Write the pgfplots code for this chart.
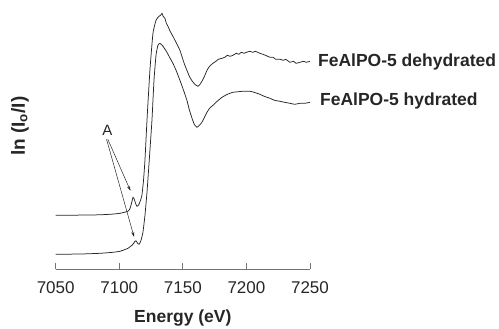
\documentclass[border=0pt]{standalone}
\usepackage{fontspec}
\setmainfont{Liberation Sans}
\usepackage{pgfplots}
\pgfplotsset{compat=1.18}
\usetikzlibrary{arrows.meta}
\begin{document}
\begin{tikzpicture}
\useasboundingbox (-55.7pt,-59.7pt) rectangle (443.3pt,269.3pt);
\begin{axis}[
  scale only axis,
  width=254.3pt, height=259.3pt,
  xmin=7050, xmax=7250, ymin=0, ymax=259.3,
  enlargelimits=false,
  clip=false,
  axis x line=bottom,
  axis y line=none,
  x axis line style={-, black!55, line width=0.7pt},
  xtick={7050,7100,7150,7200,7250},
  tick align=inside,
  major tick length=6pt,
  xtick style={black!55, line width=0.7pt},
  ytick=\empty,
  /pgf/number format/1000 sep={},
  /pgf/number format/assume math mode=true,
  xticklabel style={font=\fontsize{17}{18}\selectfont, text=black!85, yshift=-9pt},
]
\addplot[black!85, line width=0.75pt, smooth, tension=0.3] coordinates {
(7050,54) (7070,54.2) (7084.8,54.5) (7095,55.2) (7100.5,56) (7104,57) (7106.8,58)
(7108.2,60) (7109.2,64) (7110,68) (7110.8,72) (7111.5,71) (7112.3,68) (7113.1,65)
(7113.9,63) (7114.7,63.5) (7115.5,65) (7116.7,69) (7117.8,74) (7119,88) (7120.2,109)
(7121.8,149) (7124.1,199) (7126.5,236) (7128.9,249) (7131.2,253) (7132.5,254)
(7133.6,256) (7134.5,253) (7135.9,251) (7137,246) (7138.3,243) (7140,238) (7142.2,233)
(7145,226) (7147.7,219) (7150,210) (7151.6,204) (7153.5,198) (7155.5,192) (7157.5,188)
(7159.5,185) (7161.9,183) (7163.5,185) (7165,188) (7167,193) (7169,199) (7171,203)
(7173.7,206) (7176,208) (7178,210) (7180.8,211) (7183,212) (7185,214) (7187,213)
(7189.4,214) (7192,216) (7194,215) (7196,217) (7198,216) (7200,217) (7202.8,218)
(7205,217) (7207,218) (7210.6,216) (7213,215) (7215,214) (7218.5,212) (7221,212)
(7223,210) (7226.4,210) (7229,209) (7231,210) (7234.2,207) (7237,208) (7239,206)
(7242.1,207) (7245,208) (7247,207) (7250,208)
};
\addplot[black!85, line width=0.75pt, smooth, tension=0.3] coordinates {
(7050,15) (7070,15.3) (7084.8,16) (7095,17) (7100.5,18) (7104,19.5) (7106.8,21)
(7108.5,22.5) (7110,24) (7111.3,26) (7112.3,28) (7113.1,28.5) (7113.9,27)
(7114.7,25.5) (7115.5,25) (7116.3,26.5) (7117.1,29) (7118.6,37) (7120.2,54)
(7121.8,77) (7123.3,104) (7125.7,149) (7127.3,189) (7128.9,214) (7130.4,224)
(7132,226) (7134.4,223) (7137.5,217) (7140,211) (7142.2,206) (7145,198) (7147.7,189)
(7150,181) (7153.2,169) (7155,160) (7157.2,151) (7159,145) (7161.1,142) (7163,144)
(7165,147) (7167,152) (7169,157) (7171,161) (7173.7,164) (7177,168) (7180.8,172)
(7185,175) (7189.4,177) (7193,177.5) (7197,178) (7202.8,178) (7206,177) (7210.6,175)
(7214,173) (7218.5,171) (7222,169) (7226.4,168) (7230,167) (7234.2,166) (7238,165)
(7242.1,166) (7246,166) (7250,167)
};
\draw[black!85, line width=0.5pt, -{Stealth[length=5pt,width=3pt]}] (axis cs:7091,130) -- (axis cs:7108.8,78.5);
\draw[black!85, line width=0.5pt, -{Stealth[length=5pt,width=3pt]}] (axis cs:7090,130) -- (axis cs:7111.6,32.5);
\node[font=\fontsize{15}{16}\selectfont, text=black!85] at (axis cs:7090.7,138.5) {A};
\node[anchor=west, font=\bfseries\fontsize{17.5}{19}\selectfont, text=black!85, inner sep=0pt] at (axis cs:7256.2,207) {FeAlPO-5 dehydrated};
\node[anchor=west, font=\bfseries\fontsize{17.5}{19}\selectfont, text=black!85, inner sep=0pt] at (axis cs:7257.8,168) {FeAlPO-5 hydrated};
\node[rotate=90, font=\bfseries\fontsize{19}{20}\selectfont, text=black!85] at (axis cs:7021.9,143) {ln (I\textsubscript{o}/I)};
\node[font=\bfseries\fontsize{17.5}{19}\selectfont, text=black!85] at (axis cs:7150,-49) {Energy (eV)};
\end{axis}
\end{tikzpicture}
\end{document}
